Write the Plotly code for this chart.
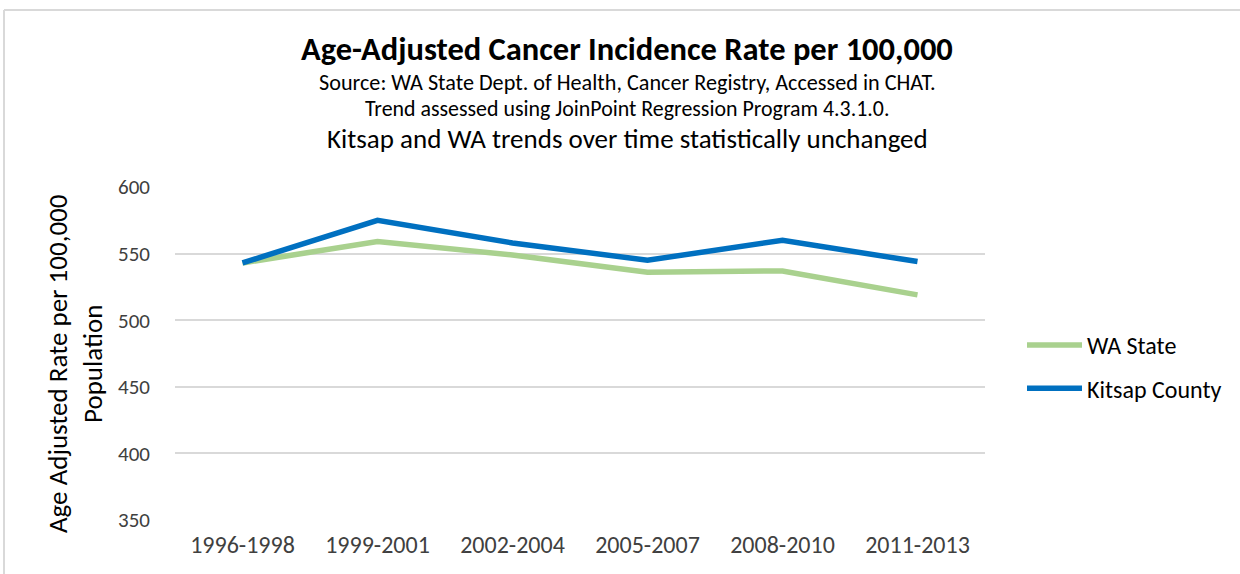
import plotly.graph_objects as go

periods = ["1996-1998", "1999-2001", "2002-2004", "2005-2007", "2008-2010", "2011-2013"]
wa_state = [543, 559, 549, 536, 537, 519]
kitsap = [543, 575, 558, 545, 560, 544]
y_ticks = [350, 400, 450, 500, 550, 600]

W, H = 1240, 574
L, R, T, B = 175, 985, 187, 520
FONT = "Carlito, Lato, sans-serif"


def px_x(px):
    return (px - L) / (R - L)


def px_y(py):
    return (B - py) / (B - T)


fig = go.Figure()
fig.add_trace(go.Scatter(x=periods, y=wa_state, mode="lines", name="WA State",
                         legendgroup="a",
                         line=dict(color="#A9D18E", width=5.5)))
fig.add_trace(go.Scatter(x=periods, y=kitsap, mode="lines", name="Kitsap County",
                         legendgroup="b",
                         line=dict(color="#0070C0", width=5.5)))

annotations = [
    dict(text="<b>Age-Adjusted Cancer Incidence Rate per 100,000</b>", x=px_x(627), y=px_y(49),
         font=dict(size=32.5, color="#000000", family=FONT)),
    dict(text="Source: WA State Dept. of Health, Cancer Registry, Accessed in CHAT.", x=px_x(627), y=px_y(83),
         font=dict(size=22.2, color="#000000", family=FONT)),
    dict(text="Trend assessed using JoinPoint Regression Program 4.3.1.0.", x=px_x(627), y=px_y(109),
         font=dict(size=21.9, color="#000000", family=FONT)),
    dict(text="Kitsap and WA trends over time statistically unchanged", x=px_x(627), y=px_y(138),
         font=dict(size=27, color="#000000", family=FONT)),
    dict(text="Age Adjusted Rate per 100,000<br>Population", x=px_x(75), y=px_y(364), textangle=-90,
         font=dict(size=27, color="#000000", family=FONT)),
]
for a in annotations:
    a.update(xref="paper", yref="paper", showarrow=False, xanchor="center", yanchor="middle")

fig.update_layout(
    width=W, height=H,
    margin=dict(l=L, r=W - R, t=T, b=H - B),
    paper_bgcolor="white", plot_bgcolor="white",
    font=dict(family=FONT, color="#404040"),
    annotations=annotations,
    showlegend=True,
    legend=dict(x=px_x(1022), y=px_y(323), xanchor="left", yanchor="top",
                font=dict(size=24, color="#000000", family=FONT),
                itemwidth=55, tracegroupgap=9, bgcolor="rgba(0,0,0,0)"),
    xaxis=dict(type="category", showgrid=False, zeroline=False, showline=False,
               ticks="", tickfont=dict(size=24, color="#404040", family=FONT),
               range=[-0.5, 5.5], ticklabelstandoff=8),
    yaxis=dict(range=[350, 600], tickvals=y_ticks, showgrid=True, gridcolor="#D9D9D9",
               gridwidth=1.5, zeroline=False, showline=False, ticks="",
               tickfont=dict(size=21, color="#404040", family=FONT), ticklabelstandoff=24),
    shapes=[
        dict(type="line", xref="paper", yref="paper", x0=px_x(4), x1=px_x(1240), y0=px_y(10), y1=px_y(10),
             line=dict(color="#D9D9D9", width=2)),
        dict(type="line", xref="paper", yref="paper", x0=px_x(4), x1=px_x(4), y0=px_y(10), y1=px_y(574),
             line=dict(color="#D9D9D9", width=2)),
    ],
)

fig.write_html("out.html", config={"displayModeBar": False, "responsive": False},
               post_script="document.body.style.margin='0';")
